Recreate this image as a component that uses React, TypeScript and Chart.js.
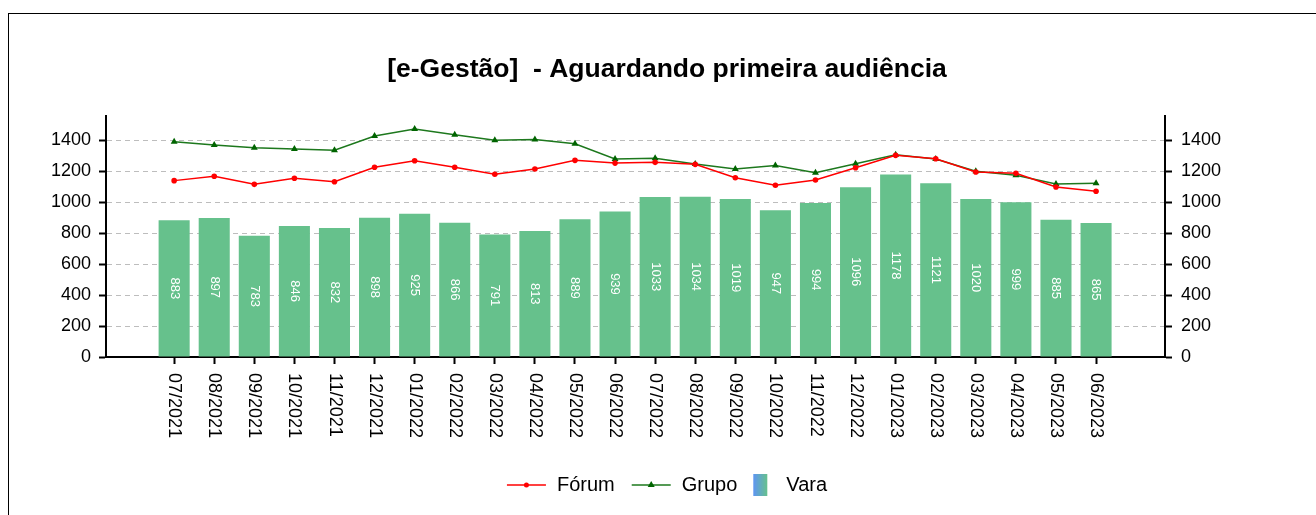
import React, { useEffect, useRef } from 'react';
import { Chart, registerables } from 'chart.js';

Chart.register(...registerables);

const chartTitle = '[e-Gestão]  - Aguardando primeira audiência';
const months = [
  '07/2021', '08/2021', '09/2021', '10/2021', '11/2021', '12/2021',
  '01/2022', '02/2022', '03/2022', '04/2022', '05/2022', '06/2022',
  '07/2022', '08/2022', '09/2022', '10/2022', '11/2022', '12/2022',
  '01/2023', '02/2023', '03/2023', '04/2023', '05/2023', '06/2023',
];
const varaValues = [883, 897, 783, 846, 832, 898, 925, 866, 791, 813, 889, 939, 1033, 1034, 1019, 947, 994, 1096, 1178, 1121, 1020, 999, 885, 865];
const forumValues = [1138, 1166, 1114, 1153, 1131, 1224, 1266, 1224, 1179, 1213, 1269, 1251, 1256, 1243, 1157, 1108, 1142, 1221, 1301, 1279, 1194, 1185, 1097, 1069];
const grupoValues = [1389, 1368, 1350, 1342, 1334, 1426, 1471, 1434, 1398, 1404, 1376, 1278, 1282, 1246, 1213, 1235, 1189, 1247, 1305, 1278, 1198, 1172, 1117, 1121];
const yTickValues = [0, 200, 400, 600, 800, 1000, 1200, 1400];
const legendNames = ['Fórum', 'Grupo', 'Vara'];

const FONT = "'Liberation Sans', Arial, Helvetica, sans-serif";
const RED = '#ff0000';
const GREEN_LINE = '#1d781d';
const GREEN_POINT = '#006400';
const BAR = '#66c18c';

const customDraw = {
  id: 'customDraw',
  afterDatasetsDraw(chart: any) {
    const ctx = chart.ctx;
    const meta = chart.getDatasetMeta(2);
    ctx.save();
    ctx.fillStyle = '#ffffff';
    ctx.font = `13px ${FONT}`;
    ctx.textAlign = 'center';
    ctx.textBaseline = 'middle';
    meta.data.forEach((bar: any, i: number) => {
      const cx = bar.x;
      const cy = (bar.y + bar.base) / 2;
      ctx.save();
      ctx.translate(cx, cy);
      ctx.rotate(Math.PI / 2);
      ctx.fillText(String(varaValues[i]), 0, 0);
      ctx.restore();
    });
    ctx.restore();
  },
  afterDraw(chart: any) {
    const ctx = chart.ctx;
    const xs = chart.scales.x;
    // x labels, rotated clockwise
    ctx.save();
    ctx.fillStyle = '#000';
    ctx.font = `18px ${FONT}`;
    ctx.textAlign = 'left';
    ctx.textBaseline = 'middle';
    months.forEach((m, i) => {
      const x = xs.getPixelForValue(i);
      ctx.save();
      ctx.translate(x, xs.top + 16);
      ctx.rotate(Math.PI / 2);
      ctx.fillText(m, 0, 0);
      ctx.restore();
    });
    ctx.restore();

    // title
    ctx.save();
    ctx.fillStyle = '#000';
    ctx.font = `bold 26.5px ${FONT}`;
    ctx.textAlign = 'center';
    ctx.textBaseline = 'alphabetic';
    ctx.fillText(chartTitle, chart.width / 2, 62.5);
    ctx.restore();

    // legend
    ctx.save();
    ctx.font = `20px ${FONT}`;
    ctx.textBaseline = 'middle';
    ctx.textAlign = 'left';
    const ly = 471;
    const lineW = 39;
    const gapT = 11;
    const boxW = 14;
    const boxH = 22;
    const w0 = ctx.measureText(legendNames[0]).width;
    const w1 = ctx.measureText(legendNames[1]).width;
    const w2 = ctx.measureText(legendNames[2]).width;
    const total = lineW + gapT + w0 + 17 + lineW + gapT + w1 + 16 + boxW + 19 + w2;
    let x = chart.width / 2 - total / 2;
    // Fórum
    ctx.strokeStyle = RED;
    ctx.lineWidth = 1.5;
    ctx.beginPath();
    ctx.moveTo(x, ly);
    ctx.lineTo(x + lineW, ly);
    ctx.stroke();
    ctx.fillStyle = RED;
    ctx.beginPath();
    ctx.arc(x + lineW / 2, ly, 2.5, 0, Math.PI * 2);
    ctx.fill();
    x += lineW + gapT;
    ctx.fillStyle = '#000';
    ctx.fillText(legendNames[0], x, ly);
    x += w0 + 17;
    // Grupo
    ctx.strokeStyle = GREEN_LINE;
    ctx.beginPath();
    ctx.moveTo(x, ly);
    ctx.lineTo(x + lineW, ly);
    ctx.stroke();
    ctx.fillStyle = GREEN_POINT;
    const tx = x + lineW / 2;
    ctx.beginPath();
    ctx.moveTo(tx, ly - 4);
    ctx.lineTo(tx + 3.5, ly + 2);
    ctx.lineTo(tx - 3.5, ly + 2);
    ctx.closePath();
    ctx.fill();
    x += lineW + gapT;
    ctx.fillStyle = '#000';
    ctx.fillText(legendNames[1], x, ly);
    x += w1 + 16;
    // Vara
    const grad = ctx.createLinearGradient(x, 0, x + boxW, 0);
    grad.addColorStop(0, '#5e95f2');
    grad.addColorStop(1, BAR);
    ctx.fillStyle = grad;
    ctx.fillRect(x, ly - boxH / 2, boxW, boxH);
    x += boxW + 19;
    ctx.fillStyle = '#000';
    ctx.fillText(legendNames[2], x, ly);
    ctx.restore();
  },
};

export default function App() {
  const canvasRef = useRef<HTMLCanvasElement | null>(null);

  useEffect(() => {
    const canvas = canvasRef.current;
    if (!canvas) return;
    const toXY = (arr: number[]) => arr.map((v, i) => ({ x: i, y: v }));
    const chart = new Chart(canvas, {
      type: 'bar',
      data: {
        datasets: [
          {
            type: 'line',
            label: legendNames[0],
            data: toXY(forumValues),
            borderColor: RED,
            backgroundColor: RED,
            borderWidth: 1.5,
            pointRadius: 2.8,
            pointBorderWidth: 0,
            pointStyle: 'circle',
            tension: 0,
            yAxisID: 'y',
          } as any,
          {
            type: 'line',
            label: legendNames[1],
            data: toXY(grupoValues),
            borderColor: GREEN_LINE,
            backgroundColor: GREEN_POINT,
            borderWidth: 1.5,
            pointRadius: 4,
            pointBorderWidth: 0,
            pointStyle: 'triangle',
            tension: 0,
            yAxisID: 'y',
          } as any,
          {
            type: 'bar',
            label: legendNames[2],
            data: toXY(varaValues),
            backgroundColor: BAR,
            borderWidth: 0,
            barPercentage: 0.775,
            categoryPercentage: 1,
            yAxisID: 'y',
          } as any,
        ],
      },
      options: {
        responsive: false,
        animation: false,
        events: [],
        layout: { padding: { top: 102, bottom: 58, left: 0, right: 0 } },
        plugins: {
          legend: { display: false },
          title: { display: false },
          tooltip: { enabled: false },
        },
        scales: {
          x: {
            type: 'linear',
            min: -1.7,
            max: 24.72,
            offset: false,
            afterBuildTicks: (s: any) => {
              s.ticks = months.map((_, i) => ({ value: i }));
            },
            afterFit: (s: any) => {
              s.height = 100;
            },
            ticks: { display: false },
            grid: {
              offset: false,
              drawOnChartArea: false,
              drawTicks: true,
              tickLength: 7,
              tickColor: '#000',
              tickWidth: 2,
            },
            border: { color: '#000', width: 2 },
          },
          y: {
            type: 'linear',
            position: 'left',
            min: 0,
            max: 1555,
            afterBuildTicks: (s: any) => {
              s.ticks = yTickValues.map((v) => ({ value: v }));
            },
            afterFit: (s: any) => {
              s.width = 97;
            },
            ticks: {
              color: '#000',
              font: { size: 18, family: FONT },
              padding: 8,
              callback: (v: any) => String(v),
            },
            grid: {
              color: '#bdbdbd',
              lineWidth: 1,
              tickLength: 7,
              tickColor: '#000',
              tickWidth: 2,
            },
            border: { color: '#000', width: 2, dash: [5, 4] },
          },
          y1: {
            type: 'linear',
            position: 'right',
            min: 0,
            max: 1555,
            afterBuildTicks: (s: any) => {
              s.ticks = yTickValues.map((v) => ({ value: v }));
            },
            afterFit: (s: any) => {
              s.width = 160;
            },
            ticks: {
              color: '#000',
              font: { size: 18, family: FONT },
              padding: 9,
              callback: (v: any) => String(v),
            },
            grid: {
              drawOnChartArea: false,
              tickLength: 7,
              tickColor: '#000',
              tickWidth: 2,
            },
            border: { color: '#000', width: 2 },
          },
        },
      } as any,
      plugins: [customDraw],
    });
    return () => chart.destroy();
  }, []);

  return (
    <div
      style={{
        position: 'absolute',
        left: 8,
        top: 13,
        width: 1308,
        height: 502,
        overflow: 'hidden',
      }}
    >
      <div style={{ width: 1316, height: 520, border: '1px solid #000' }}>
        <canvas
          ref={canvasRef}
          width={1316}
          height={501}
          style={{ display: 'block', width: 1316, height: 501 }}
        />
      </div>
    </div>
  );
}
